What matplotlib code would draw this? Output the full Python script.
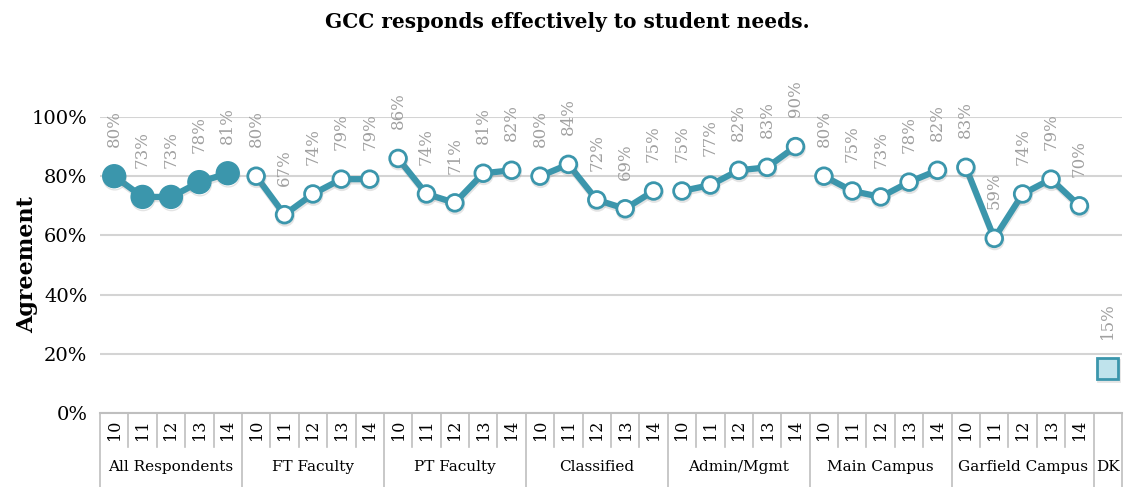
import matplotlib
matplotlib.use("Agg")
import matplotlib.pyplot as plt
import matplotlib.transforms as mtransforms
import matplotlib.patheffects as pe
from matplotlib.ticker import PercentFormatter

# Data
groups = ["All Respondents", "FT Faculty", "PT Faculty", "Classified",
          "Admin/Mgmt", "Main Campus", "Garfield Campus"]
years = ["10", "11", "12", "13", "14"]
all_resp = [0.80, 0.73, 0.73, 0.78, 0.81]
ft_faculty = [0.80, 0.67, 0.74, 0.79, 0.79]
pt_faculty = [0.86, 0.74, 0.71, 0.81, 0.82]
classified = [0.80, 0.84, 0.72, 0.69, 0.75]
admin_mgmt = [0.75, 0.77, 0.82, 0.83, 0.90]
main_campus = [0.80, 0.75, 0.73, 0.78, 0.82]
garfield = [0.83, 0.59, 0.74, 0.79, 0.70]
dk_value = 0.15

series = [all_resp, ft_faculty, pt_faculty, classified, admin_mgmt, main_campus, garfield]

teal = "#3B96AC"
label_gray = "#A0A0A0"
serif = ["DejaVu Serif"]
shadow = [pe.SimpleLineShadow(offset=(0.4, -1.6), shadow_color="#888888", alpha=0.22),
          pe.Normal()]

fig = plt.figure(figsize=(11.34, 4.87), dpi=100)
W, H = 1134, 487
ax = fig.add_axes([100 / W, (H - 413) / H, (1122 - 100) / W, (413 - 117) / H])

n_years = len(years)
for gi, vals in enumerate(series):
    xs = [gi * n_years + i for i in range(n_years)]
    if gi == 0:
        ax.plot(xs, vals, color=teal, lw=4.5, marker="o", ms=16.5,
                mfc=teal, mec=teal, zorder=3, path_effects=shadow)
    else:
        ax.plot(xs, vals, color=teal, lw=4.5, marker="o", ms=12,
                mfc="white", mec=teal, mew=2, zorder=3, path_effects=shadow)
    for x, v in zip(xs, vals):
        ax.annotate(f"{round(v * 100)}%", (x, v), xytext=(0, 21), textcoords="offset points",
                    rotation=90, ha="center", va="bottom", color=label_gray,
                    fontsize=12, family=serif, annotation_clip=False)

dk_x = len(groups) * n_years
ax.plot([dk_x], [dk_value], marker="s", ms=15, mfc="#BFE3EC", mec=teal, mew=2,
        ls="none", zorder=3, path_effects=shadow)
ax.annotate(f"{round(dk_value * 100)}%", (dk_x, dk_value), xytext=(0, 21),
            textcoords="offset points", rotation=90, ha="center", va="bottom",
            color=label_gray, fontsize=12, family=serif, annotation_clip=False)

ax.set_xlim(-0.5, dk_x + 0.5)
ax.set_ylim(0, 1)
ax.set_yticks([0, 0.2, 0.4, 0.6, 0.8, 1.0])
ax.yaxis.set_major_formatter(PercentFormatter(1.0, decimals=0))
ax.grid(axis="y", color="#D4D4D4", lw=1.5)
ax.set_axisbelow(True)
for s in ["top", "right", "left"]:
    ax.spines[s].set_visible(False)
ax.spines["bottom"].set_color("#BFBFBF")
ax.spines["bottom"].set_linewidth(1.5)
ax.tick_params(axis="y", length=0, pad=9, labelsize=14)
for t in ax.get_yticklabels():
    t.set_family(serif)
ax.set_xticks([])

fig.text(27 / W, 1 - 265 / H, "Agreement", rotation=90, ha="center", va="center",
         family=serif, fontsize=16, fontweight="bold")
fig.text(0.5, 1 - 22 / H, "GCC responds effectively to student needs.", ha="center",
         va="center", family=serif, fontsize=14.5, fontweight="bold")

# category table under the axis
trans = mtransforms.blended_transform_factory(ax.transData, ax.transAxes)
row1 = -34 / 296
row2 = -74 / 296
sep_kw = dict(color="#BFBFBF", lw=1.2, transform=trans, clip_on=False)
for k in range(dk_x + 2):
    x = k - 0.5
    if k % n_years == 0 or k >= dk_x:
        ax.plot([x, x], [0, row2], **sep_kw)
    else:
        ax.plot([x, x], [0, row1], **sep_kw)
for gi, g in enumerate(groups):
    for i, y in enumerate(years):
        ax.text(gi * n_years + i, row1 / 2, y, rotation=90, ha="center", va="center",
                transform=trans, family=serif, fontsize=11.5)
    ax.text(gi * n_years + 2, (row1 + row2) / 2, g, ha="center", va="center",
            transform=trans, family=serif, fontsize=11)
ax.text(dk_x, (row1 + row2) / 2, "DK", ha="center", va="center",
        transform=trans, family=serif, fontsize=11)

fig.savefig("out.png", dpi=100)
